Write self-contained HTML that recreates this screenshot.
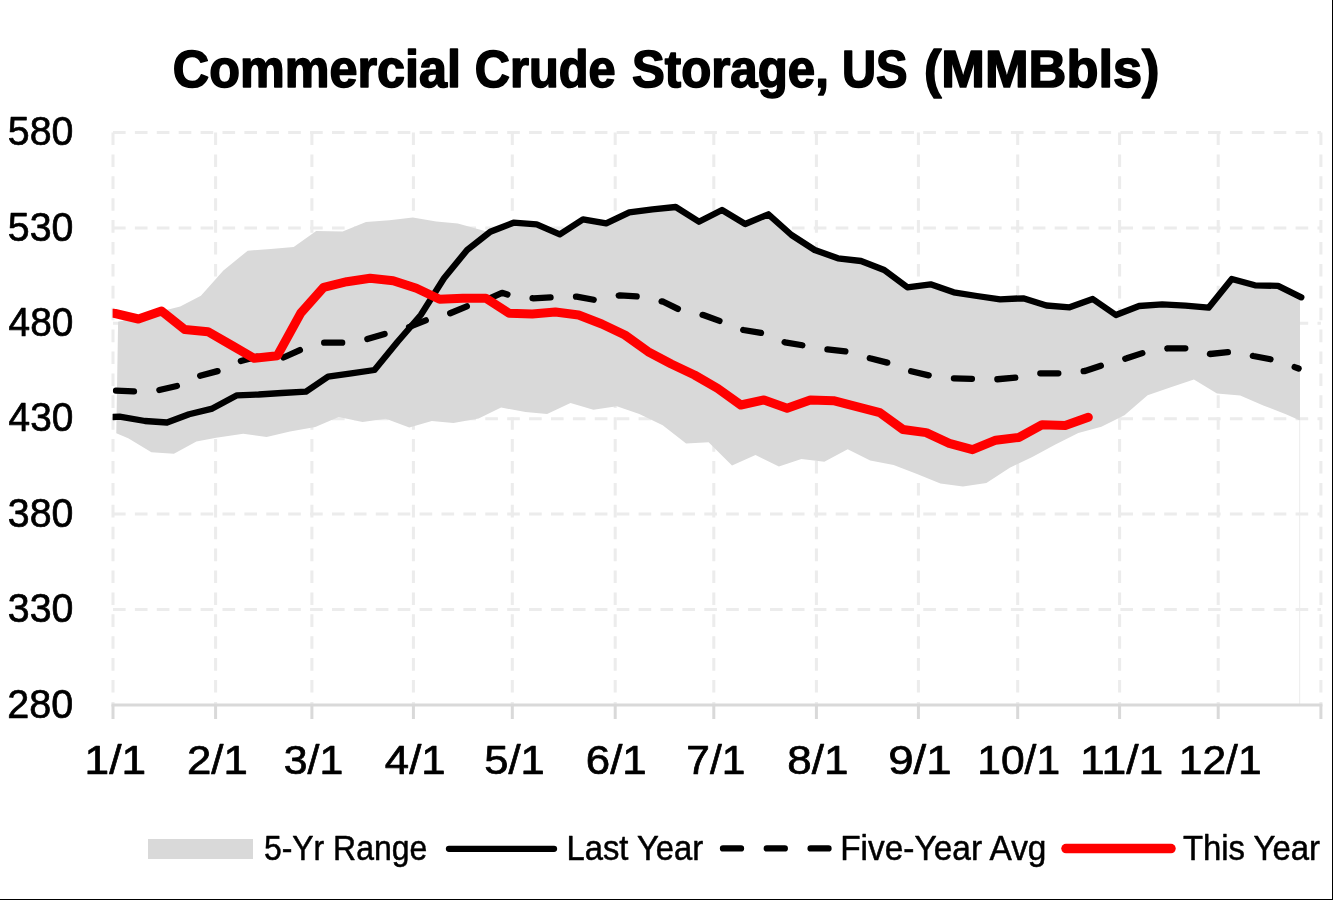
<!DOCTYPE html>
<html><head><meta charset="utf-8"><title>Commercial Crude Storage, US (MMBbls)</title>
<style>html,body{margin:0;padding:0;background:#fff;width:1333px;height:900px;overflow:hidden;font-family:"Liberation Sans",sans-serif;}svg{display:block;will-change:transform;}</style>
</head><body>
<svg width="1333" height="900" viewBox="0 0 1333 900">
<defs><clipPath id="pc"><rect x="112.6" y="0" width="1300" height="900"/></clipPath></defs>
<rect x="0" y="0" width="1333" height="900" fill="#fff"/>
<line x1="113.0" y1="132.5" x2="1320.9" y2="132.5" stroke="#ececec" stroke-width="3" stroke-dasharray="12.6 9.3"/>
<line x1="113.0" y1="227.9" x2="1320.9" y2="227.9" stroke="#ececec" stroke-width="3" stroke-dasharray="12.6 9.3"/>
<line x1="113.0" y1="323.3" x2="1320.9" y2="323.3" stroke="#ececec" stroke-width="3" stroke-dasharray="12.6 9.3"/>
<line x1="113.0" y1="418.7" x2="1320.9" y2="418.7" stroke="#ececec" stroke-width="3" stroke-dasharray="12.6 9.3"/>
<line x1="113.0" y1="514.1" x2="1320.9" y2="514.1" stroke="#ececec" stroke-width="3" stroke-dasharray="12.6 9.3"/>
<line x1="113.0" y1="609.5" x2="1320.9" y2="609.5" stroke="#ececec" stroke-width="3" stroke-dasharray="12.6 9.3"/>
<line x1="113.0" y1="132.5" x2="113.0" y2="704.9" stroke="#ececec" stroke-width="3" stroke-dasharray="12.6 9.3"/>
<line x1="215.6" y1="132.5" x2="215.6" y2="704.9" stroke="#ececec" stroke-width="3" stroke-dasharray="12.6 9.3"/>
<line x1="311.9" y1="132.5" x2="311.9" y2="704.9" stroke="#ececec" stroke-width="3" stroke-dasharray="12.6 9.3"/>
<line x1="413.4" y1="132.5" x2="413.4" y2="704.9" stroke="#ececec" stroke-width="3" stroke-dasharray="12.6 9.3"/>
<line x1="512.3" y1="132.5" x2="512.3" y2="704.9" stroke="#ececec" stroke-width="3" stroke-dasharray="12.6 9.3"/>
<line x1="615.2" y1="132.5" x2="615.2" y2="704.9" stroke="#ececec" stroke-width="3" stroke-dasharray="12.6 9.3"/>
<line x1="713.8" y1="132.5" x2="713.8" y2="704.9" stroke="#ececec" stroke-width="3" stroke-dasharray="12.6 9.3"/>
<line x1="816.4" y1="132.5" x2="816.4" y2="704.9" stroke="#ececec" stroke-width="3" stroke-dasharray="12.6 9.3"/>
<line x1="918.4" y1="132.5" x2="918.4" y2="704.9" stroke="#ececec" stroke-width="3" stroke-dasharray="12.6 9.3"/>
<line x1="1017.7" y1="132.5" x2="1017.7" y2="704.9" stroke="#ececec" stroke-width="3" stroke-dasharray="12.6 9.3"/>
<line x1="1119.6" y1="132.5" x2="1119.6" y2="704.9" stroke="#ececec" stroke-width="3" stroke-dasharray="12.6 9.3"/>
<line x1="1218.2" y1="132.5" x2="1218.2" y2="704.9" stroke="#ececec" stroke-width="3" stroke-dasharray="12.6 9.3"/>
<line x1="1320.9" y1="132.5" x2="1320.9" y2="704.9" stroke="#ececec" stroke-width="3" stroke-dasharray="12.6 9.3"/>
<polygon points="118.1,321.8 140.0,316.5 160.0,311.0 169.4,309.2 180.2,306.5 200.9,295.7 223.4,270.5 247.7,250.7 270.7,249.0 293.7,247.1 316.2,230.9 342.6,231.5 366.0,222.0 389.4,220.2 412.8,217.5 436.2,221.6 457.8,223.4 486.6,231.5 513.5,222.7 536.7,224.3 559.8,234.3 583.0,219.3 606.2,223.3 629.3,212.3 652.5,209.3 675.7,207.0 698.9,221.7 722.0,210.0 745.2,224.0 768.4,214.3 791.5,235.0 814.7,250.0 837.9,258.3 861.0,261.0 884.2,270.0 907.4,287.3 930.6,284.3 953.7,292.3 976.9,296.0 1000.1,299.3 1023.2,298.3 1046.4,305.5 1069.6,307.3 1092.7,299.0 1115.9,315.0 1139.1,306.0 1162.2,304.3 1185.4,305.7 1208.6,307.7 1231.8,279.0 1254.9,285.3 1278.1,285.9 1300.0,297.3 1300.0,420.4 1286.5,414.5 1263.3,405.5 1240.2,395.5 1217.0,393.5 1193.9,379.5 1170.8,387.2 1147.6,395.2 1124.5,415.2 1101.4,426.7 1078.3,433.0 1055.4,444.5 1032.3,456.9 1009.8,467.7 986.4,483.0 962.9,486.6 940.4,483.4 917.0,474.0 893.6,465.0 870.2,460.5 847.7,449.2 824.3,461.8 801.4,458.9 778.9,466.5 755.5,455.0 732.0,465.6 708.6,442.2 686.1,443.6 662.7,425.2 639.3,413.9 616.8,406.3 593.4,409.8 570.5,403.0 547.1,414.0 525.5,412.0 501.1,407.5 478.6,418.4 453.4,423.0 431.8,421.1 409.3,427.5 385.9,418.8 362.5,422.0 338.7,417.1 315.3,427.0 290.0,431.5 266.6,436.9 243.2,433.8 216.2,437.8 196.4,441.4 173.9,453.7 151.4,452.2 128.2,438.3 116.3,433.3" fill="#d9d9d9"/>
<line x1="1299.7" y1="420" x2="1299.7" y2="704" stroke="#ececec" stroke-width="1"/>
<line x1="111.5" y1="704.9" x2="1322.4" y2="704.9" stroke="#d9d9d9" stroke-width="3"/>
<line x1="113.0" y1="704.9" x2="113.0" y2="719.0" stroke="#d9d9d9" stroke-width="3"/>
<line x1="215.6" y1="704.9" x2="215.6" y2="719.0" stroke="#d9d9d9" stroke-width="3"/>
<line x1="311.9" y1="704.9" x2="311.9" y2="719.0" stroke="#d9d9d9" stroke-width="3"/>
<line x1="413.4" y1="704.9" x2="413.4" y2="719.0" stroke="#d9d9d9" stroke-width="3"/>
<line x1="512.3" y1="704.9" x2="512.3" y2="719.0" stroke="#d9d9d9" stroke-width="3"/>
<line x1="615.2" y1="704.9" x2="615.2" y2="719.0" stroke="#d9d9d9" stroke-width="3"/>
<line x1="713.8" y1="704.9" x2="713.8" y2="719.0" stroke="#d9d9d9" stroke-width="3"/>
<line x1="816.4" y1="704.9" x2="816.4" y2="719.0" stroke="#d9d9d9" stroke-width="3"/>
<line x1="918.4" y1="704.9" x2="918.4" y2="719.0" stroke="#d9d9d9" stroke-width="3"/>
<line x1="1017.7" y1="704.9" x2="1017.7" y2="719.0" stroke="#d9d9d9" stroke-width="3"/>
<line x1="1119.6" y1="704.9" x2="1119.6" y2="719.0" stroke="#d9d9d9" stroke-width="3"/>
<line x1="1218.2" y1="704.9" x2="1218.2" y2="719.0" stroke="#d9d9d9" stroke-width="3"/>
<line x1="1320.9" y1="704.9" x2="1320.9" y2="719.0" stroke="#d9d9d9" stroke-width="3"/>
<g clip-path="url(#pc)">
<polyline points="113.0,390.5 133.6,391.3 157.3,390.5 177.7,385.8 198.2,376.3 218.7,370.8 238.3,361.7 256.7,356.7 281.7,358.3 300.0,350.0 323.3,342.7 343.3,342.7 366.7,339.3 386.7,333.3 410.0,326.7 426.7,320.0 450.0,313.3 470.0,305.0 490.0,298.3 502.0,292.8 511.0,295.5 533.3,298.3 551.7,297.3 576.7,296.7 595.0,300.0 620.0,295.3 640.0,296.7 663.3,301.7 680.0,310.0 703.3,315.0 721.7,321.7 743.3,330.0 763.3,333.3 785.0,342.3 805.0,345.7 826.7,349.3 848.3,351.7 870.0,358.3 890.0,363.3 910.0,371.0 931.7,376.0 953.3,378.3 975.0,379.0 996.7,379.3 1020.0,377.3 1040.0,373.3 1060.0,373.3 1085.0,371.0 1103.3,365.0 1126.7,358.3 1146.7,351.7 1168.3,348.3 1190.0,348.3 1210.0,354.0 1233.3,351.7 1253.3,356.0 1274.6,360.0 1298.6,368.5" fill="none" stroke="#000" stroke-width="6.3" stroke-linejoin="round" stroke-dasharray="18 25.44" stroke-dashoffset="40.44" stroke-linecap="round"/>
<polyline points="113.0,417.0 119.6,416.6 145.0,421.0 167.0,422.5 189.1,414.2 212.3,408.6 237.0,395.3 258.6,394.5 281.8,393.0 306.0,391.7 328.1,376.7 351.3,373.3 374.5,370.0 397.6,341.7 420.8,315.0 444.0,278.3 467.1,250.0 490.3,231.7 513.5,222.7 536.7,224.3 559.8,234.3 583.0,219.3 606.2,223.3 629.3,212.3 652.5,209.3 675.7,207.0 698.9,221.7 722.0,210.0 745.2,224.0 768.4,214.3 791.5,235.0 814.7,250.0 837.9,258.3 861.0,261.0 884.2,270.0 907.4,287.3 930.6,284.3 953.7,292.3 976.9,296.0 1000.1,299.3 1023.2,298.3 1046.4,305.5 1069.6,307.3 1092.7,299.0 1115.9,315.0 1139.1,306.0 1162.2,304.3 1185.4,305.7 1208.6,307.7 1231.8,279.0 1254.9,285.3 1278.1,285.9 1301.3,297.3" fill="none" stroke="#000" stroke-width="6.3" stroke-linejoin="round" stroke-linecap="round"/>
<polyline points="113.0,313.3 115.2,313.5 138.4,319.0 161.5,311.0 184.7,329.5 207.9,331.7 231.1,345.0 254.2,358.3 277.4,355.7 300.6,313.3 323.7,287.3 346.9,281.7 370.1,278.3 393.2,280.7 416.4,288.3 439.6,299.3 462.8,298.3 485.9,298.3 509.1,313.3 532.3,314.0 555.4,312.0 578.6,315.0 601.8,324.0 624.9,335.0 648.1,351.7 671.3,364.0 694.5,375.0 717.6,388.3 740.8,405.0 764.0,400.0 787.1,408.3 810.3,400.0 833.5,400.7 856.6,406.7 879.8,412.7 903.0,429.5 926.2,432.6 949.3,443.4 972.5,449.7 995.7,440.2 1018.8,437.5 1042.0,424.8 1065.2,425.6 1088.3,417.3" fill="none" stroke="#f00" stroke-width="9" stroke-linejoin="round" stroke-linecap="round"/>
</g>
<text x="172.79" y="86.60" font-family="'Liberation Sans', sans-serif" font-weight="bold" font-size="52.33" textLength="288.17" lengthAdjust="spacingAndGlyphs" stroke="#000" stroke-width="1.60" stroke-linejoin="round">Commercial</text>
<text x="474.85" y="86.60" font-family="'Liberation Sans', sans-serif" font-weight="bold" font-size="52.33" textLength="140.86" lengthAdjust="spacingAndGlyphs" stroke="#000" stroke-width="1.60" stroke-linejoin="round">Crude</text>
<text x="631.92" y="86.60" font-family="'Liberation Sans', sans-serif" font-weight="bold" font-size="52.33" textLength="196.98" lengthAdjust="spacingAndGlyphs" stroke="#000" stroke-width="1.60" stroke-linejoin="round">Storage,</text>
<text x="841.97" y="86.60" font-family="'Liberation Sans', sans-serif" font-weight="bold" font-size="52.33" textLength="65.58" lengthAdjust="spacingAndGlyphs" stroke="#000" stroke-width="1.60" stroke-linejoin="round">US</text>
<text x="923.88" y="86.60" font-family="'Liberation Sans', sans-serif" font-weight="bold" font-size="52.33" textLength="235.69" lengthAdjust="spacingAndGlyphs" stroke="#000" stroke-width="1.60" stroke-linejoin="round">(MMBbls)</text>
<text x="7.78" y="145.15" font-family="'Liberation Sans', sans-serif" font-weight="normal" font-size="40.41" textLength="65.59" lengthAdjust="spacingAndGlyphs" stroke="#000" stroke-width="0.70" stroke-linejoin="round">580</text>
<text x="7.78" y="240.55" font-family="'Liberation Sans', sans-serif" font-weight="normal" font-size="40.41" textLength="65.59" lengthAdjust="spacingAndGlyphs" stroke="#000" stroke-width="0.70" stroke-linejoin="round">530</text>
<text x="8.57" y="335.95" font-family="'Liberation Sans', sans-serif" font-weight="normal" font-size="40.41" textLength="64.77" lengthAdjust="spacingAndGlyphs" stroke="#000" stroke-width="0.70" stroke-linejoin="round">480</text>
<text x="8.57" y="431.35" font-family="'Liberation Sans', sans-serif" font-weight="normal" font-size="40.41" textLength="64.77" lengthAdjust="spacingAndGlyphs" stroke="#000" stroke-width="0.70" stroke-linejoin="round">430</text>
<text x="7.78" y="526.75" font-family="'Liberation Sans', sans-serif" font-weight="normal" font-size="40.41" textLength="65.59" lengthAdjust="spacingAndGlyphs" stroke="#000" stroke-width="0.70" stroke-linejoin="round">380</text>
<text x="7.78" y="622.15" font-family="'Liberation Sans', sans-serif" font-weight="normal" font-size="40.41" textLength="65.59" lengthAdjust="spacingAndGlyphs" stroke="#000" stroke-width="0.70" stroke-linejoin="round">330</text>
<text x="7.37" y="717.55" font-family="'Liberation Sans', sans-serif" font-weight="normal" font-size="40.41" textLength="66.00" lengthAdjust="spacingAndGlyphs" stroke="#000" stroke-width="0.70" stroke-linejoin="round">280</text>
<text x="84.61" y="773.65" font-family="'Liberation Sans', sans-serif" font-weight="normal" font-size="40.26" textLength="61.45" lengthAdjust="spacingAndGlyphs" stroke="#000" stroke-width="0.70" stroke-linejoin="round">1/1</text>
<text x="186.96" y="773.65" font-family="'Liberation Sans', sans-serif" font-weight="normal" font-size="40.26" textLength="60.89" lengthAdjust="spacingAndGlyphs" stroke="#000" stroke-width="0.70" stroke-linejoin="round">2/1</text>
<text x="283.74" y="773.65" font-family="'Liberation Sans', sans-serif" font-weight="normal" font-size="40.26" textLength="59.56" lengthAdjust="spacingAndGlyphs" stroke="#000" stroke-width="0.70" stroke-linejoin="round">3/1</text>
<text x="384.88" y="773.65" font-family="'Liberation Sans', sans-serif" font-weight="normal" font-size="40.26" textLength="60.77" lengthAdjust="spacingAndGlyphs" stroke="#000" stroke-width="0.70" stroke-linejoin="round">4/1</text>
<text x="484.21" y="773.65" font-family="'Liberation Sans', sans-serif" font-weight="normal" font-size="40.26" textLength="60.53" lengthAdjust="spacingAndGlyphs" stroke="#000" stroke-width="0.70" stroke-linejoin="round">5/1</text>
<text x="585.76" y="773.65" font-family="'Liberation Sans', sans-serif" font-weight="normal" font-size="40.26" textLength="60.99" lengthAdjust="spacingAndGlyphs" stroke="#000" stroke-width="0.70" stroke-linejoin="round">6/1</text>
<text x="686.33" y="773.65" font-family="'Liberation Sans', sans-serif" font-weight="normal" font-size="40.26" textLength="59.05" lengthAdjust="spacingAndGlyphs" stroke="#000" stroke-width="0.70" stroke-linejoin="round">7/1</text>
<text x="787.19" y="773.65" font-family="'Liberation Sans', sans-serif" font-weight="normal" font-size="40.26" textLength="61.17" lengthAdjust="spacingAndGlyphs" stroke="#000" stroke-width="0.70" stroke-linejoin="round">8/1</text>
<text x="888.27" y="773.65" font-family="'Liberation Sans', sans-serif" font-weight="normal" font-size="40.26" textLength="63.37" lengthAdjust="spacingAndGlyphs" stroke="#000" stroke-width="0.70" stroke-linejoin="round">9/1</text>
<text x="977.24" y="773.65" font-family="'Liberation Sans', sans-serif" font-weight="normal" font-size="40.26" textLength="82.88" lengthAdjust="spacingAndGlyphs" stroke="#000" stroke-width="0.70" stroke-linejoin="round">10/1</text>
<text x="1080.09" y="773.65" font-family="'Liberation Sans', sans-serif" font-weight="normal" font-size="40.26" textLength="83.28" lengthAdjust="spacingAndGlyphs" stroke="#000" stroke-width="0.70" stroke-linejoin="round">11/1</text>
<text x="1178.74" y="773.65" font-family="'Liberation Sans', sans-serif" font-weight="normal" font-size="40.26" textLength="82.88" lengthAdjust="spacingAndGlyphs" stroke="#000" stroke-width="0.70" stroke-linejoin="round">12/1</text>
<rect x="148" y="839" width="105" height="20" fill="#d9d9d9"/>
<text x="263.97" y="859.55" font-family="'Liberation Sans', sans-serif" font-weight="normal" font-size="34.16" textLength="163.18" lengthAdjust="spacingAndGlyphs" stroke="#000" stroke-width="0.50" stroke-linejoin="round">5-Yr Range</text>
<line x1="449" y1="848.8" x2="554" y2="848.8" stroke="#000" stroke-width="6.3" stroke-linecap="round"/>
<text x="566.53" y="859.55" font-family="'Liberation Sans', sans-serif" font-weight="normal" font-size="34.16" textLength="136.69" lengthAdjust="spacingAndGlyphs" stroke="#000" stroke-width="0.50" stroke-linejoin="round">Last Year</text>
<line x1="723" y1="848.4" x2="828.5" y2="848.4" stroke="#000" stroke-width="6.3" stroke-linecap="round" stroke-dasharray="18 25.8"/>
<text x="840.18" y="859.55" font-family="'Liberation Sans', sans-serif" font-weight="normal" font-size="34.16" textLength="206.30" lengthAdjust="spacingAndGlyphs" stroke="#000" stroke-width="0.50" stroke-linejoin="round">Five-Year Avg</text>
<line x1="1066" y1="848.6" x2="1171" y2="848.6" stroke="#f00" stroke-width="9.5" stroke-linecap="round"/>
<text x="1182.89" y="859.55" font-family="'Liberation Sans', sans-serif" font-weight="normal" font-size="34.16" textLength="137.10" lengthAdjust="spacingAndGlyphs" stroke="#000" stroke-width="0.50" stroke-linejoin="round">This Year</text>
<rect x="1332" y="0" width="1" height="900" fill="#000"/>
<rect x="0" y="899" width="1333" height="1" fill="#000"/>
</svg>
</body></html>
